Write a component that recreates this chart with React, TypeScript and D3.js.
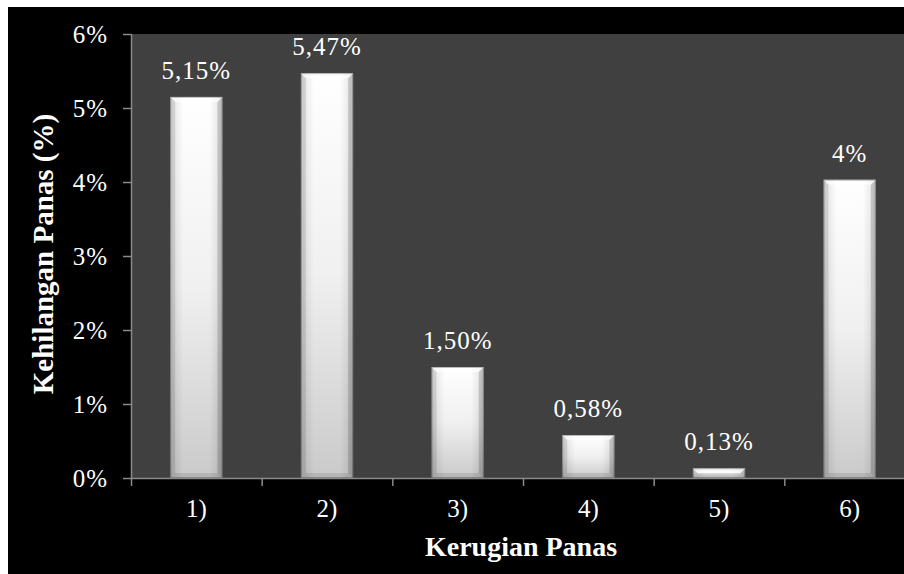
import React from "react";
import * as d3 from "d3";

const categories = ["1)", "2)", "3)", "4)", "5)", "6)"];
const values = [5.15, 5.47, 1.5, 0.58, 0.13, 4.03];
const valueLabels = ["5,15%", "5,47%", "1,50%", "0,58%", "0,13%", "4%"];
const yTicks = [0, 1, 2, 3, 4, 5, 6];
const xTitle = "Kerugian Panas";
const yTitle = "Kehilangan Panas (%)";

const W = 904;
const H = 574;
const plot = { left: 131, top: 34, right: 915, bottom: 478 };
const serif = "'Liberation Serif', 'Times New Roman', serif";

export default function App() {
  const x = d3
    .scaleBand<string>()
    .domain(categories)
    .range([plot.left, plot.right])
    .paddingInner(0.6)
    .paddingOuter(0.3);
  const band = (plot.right - plot.left) / categories.length;
  const y = d3.scaleLinear().domain([0, 6]).range([plot.bottom, plot.top]);

  return (
    <svg
      width={W}
      height={H}
      style={{ position: "absolute", left: 0, top: 0, display: "block" }}
    >
      <defs>
        <linearGradient id="barV" x1="0" y1="0" x2="0" y2="1">
          <stop offset="0" stopColor="#ffffff" />
          <stop offset="0.5" stopColor="#f0f0f0" />
          <stop offset="1" stopColor="#cacaca" />
        </linearGradient>
        <linearGradient id="barH" x1="0" y1="0" x2="1" y2="0">
          <stop offset="0" stopColor="#000" stopOpacity="0.12" />
          <stop offset="0.25" stopColor="#000" stopOpacity="0" />
          <stop offset="0.75" stopColor="#000" stopOpacity="0" />
          <stop offset="1" stopColor="#000" stopOpacity="0.12" />
        </linearGradient>
        <clipPath id="frame">
          <rect x={8} y={7} width={W - 8} height={H - 7} />
        </clipPath>
      </defs>
      <rect x={0} y={0} width={W} height={H} fill="#ffffff" />
      <g clipPath="url(#frame)">
        <rect x={8} y={7} width={W - 8} height={H - 7} fill="#000000" />
        <rect
          x={plot.left}
          y={plot.top}
          width={plot.right - plot.left}
          height={plot.bottom - plot.top}
          fill="#404040"
        />
        {/* bars */}
        {categories.map((c, i) => {
          const x0 = x(c)!;
          const w = x.bandwidth();
          const x1 = x0 + w;
          const y0 = y(values[i]);
          const y1 = y(0);
          const h = y1 - y0;
          const b = Math.min(5, h / 2);
          const pts = (arr: number[][]) => arr.map((p) => p.join(",")).join(" ");
          return (
            <g key={c}>
              <rect x={x0} y={y0} width={w} height={h} fill="url(#barV)" />
              <rect x={x0} y={y0} width={w} height={h} fill="url(#barH)" />
              <polygon
                points={pts([[x0, y0], [x1, y0], [x1 - b, y0 + b], [x0 + b, y0 + b]])}
                fill="#ffffff"
                fillOpacity={0.6}
              />
              <polygon
                points={pts([[x0, y0], [x0 + b, y0 + b], [x0 + b, y1 - b], [x0, y1]])}
                fill="#000"
                fillOpacity={0.1}
              />
              <polygon
                points={pts([[x1, y0], [x1 - b, y0 + b], [x1 - b, y1 - b], [x1, y1]])}
                fill="#000"
                fillOpacity={0.16}
              />
              <polygon
                points={pts([[x0, y1], [x1, y1], [x1 - b, y1 - b], [x0 + b, y1 - b]])}
                fill="#000"
                fillOpacity={0.1}
              />
              <rect
                x={x0 + 0.5}
                y={y0 + 0.5}
                width={w - 1}
                height={h - 1}
                fill="none"
                stroke="#000"
                strokeOpacity={0.25}
              />
              <text
                x={x0 + w / 2}
                y={y0 - 18}
                textAnchor="middle"
                fill="#ffffff"
                fontFamily={serif}
                fontSize={25}
                letterSpacing={1}
              >
                {valueLabels[i]}
              </text>
            </g>
          );
        })}
        {/* axes */}
        <line
          x1={plot.left}
          x2={plot.right}
          y1={plot.bottom + 0.5}
          y2={plot.bottom + 0.5}
          stroke="#8a8a8a"
          strokeWidth={1.5}
        />
        <line
          x1={plot.left + 0.5}
          x2={plot.left + 0.5}
          y1={plot.top}
          y2={plot.bottom}
          stroke="#8a8a8a"
          strokeWidth={1.5}
        />
        {yTicks.map((t) => (
          <g key={t}>
            <line
              x1={plot.left - 8}
              x2={plot.left}
              y1={y(t) + 0.5}
              y2={y(t) + 0.5}
              stroke="#8a8a8a"
              strokeWidth={1.5}
            />
            <text
              x={108}
              y={y(t)}
              dy="0.35em"
              textAnchor="end"
              fill="#ffffff"
              fontFamily={serif}
              fontSize={25}
              letterSpacing={1}
            >
              {t + "%"}
            </text>
          </g>
        ))}
        {d3.range(categories.length + 1).map((i) => (
          <line
            key={i}
            x1={plot.left + i * band + 0.5}
            x2={plot.left + i * band + 0.5}
            y1={plot.bottom}
            y2={plot.bottom + 8}
            stroke="#8a8a8a"
            strokeWidth={1.5}
          />
        ))}
        {categories.map((c) => (
          <text
            key={c}
            x={x(c)! + x.bandwidth() / 2}
            y={517}
            textAnchor="middle"
            fill="#ffffff"
            fontFamily={serif}
            fontSize={25}
          >
            {c}
          </text>
        ))}
        <text
          x={521}
          y={556}
          textAnchor="middle"
          fill="#ffffff"
          fontFamily={serif}
          fontWeight="bold"
          fontSize={28}
        >
          {xTitle}
        </text>
        <text
          transform={`translate(53,254) rotate(-90)`}
          textAnchor="middle"
          fill="#ffffff"
          fontFamily={serif}
          fontWeight="bold"
          fontSize={29}
        >
          {yTitle}
        </text>
      </g>
    </svg>
  );
}
